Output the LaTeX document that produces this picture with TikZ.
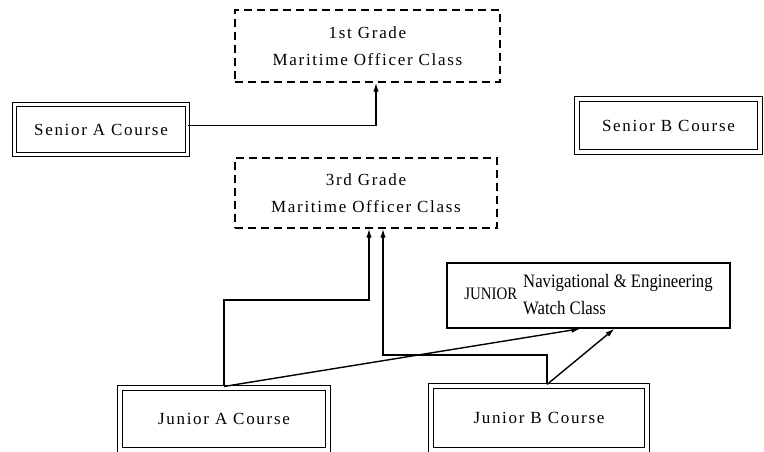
\documentclass[tikz,border=0pt]{standalone}
\usepackage{fontspec}
\setmainfont{Liberation Serif}
\usetikzlibrary{arrows.meta}
\begin{document}
\begin{tikzpicture}[x=1pt,y=-1pt,
  lbl/.style={font=\fontsize{17}{27}\selectfont\addfontfeature{LetterSpace=10}, align=center, inner sep=0pt},
  dashbox/.style={lbl, draw, dash pattern=on 8pt off 5pt, line width=1.4pt},
  dblbox/.style={lbl, draw, double, double distance=3.5pt, line width=1.1pt},
  solidbox/.style={draw, line width=1.4pt, inner sep=0pt},
  conn/.style={line width=1.4pt},
  arr/.style={conn, -{Latex[length=9pt,width=5.5pt]}}]
\useasboundingbox[fill=white] (0,0) rectangle (764,452);

\node[dashbox, minimum width=265pt, minimum height=72pt] (g1) at (367.5,46) {1st Grade\\Maritime Officer Class};
\node[dblbox, minimum width=173pt, minimum height=50pt] (seniorA) at (101,129.5) {Senior A Course};
\node[dblbox, minimum width=183pt, minimum height=53pt] (seniorB) at (668.5,125.5) {Senior B Course};
\node[dashbox, minimum width=262pt, minimum height=70pt] (g3) at (366,193) {3rd Grade\\Maritime Officer Class};
\node[solidbox, minimum width=283pt, minimum height=65pt] (watch) at (588.5,295.5) {%
  {\fontsize{17.5}{17.5}\selectfont\addfontfeature{FakeStretch=0.85}JUNIOR}\hspace{6pt}%
  \fontsize{19}{27}\selectfont\addfontfeature{FakeStretch=0.88}%
  \begin{tabular}[c]{@{}l@{}}Navigational \& Engineering\\Watch Class\end{tabular}\hspace{16pt}};
\node[dblbox, minimum width=208pt, minimum height=62pt] (juniorA) at (224,419) {Junior A Course};
\node[dblbox, minimum width=216pt, minimum height=64pt] (juniorB) at (539,418) {Junior B Course};

\coordinate (ja1) at (369,300);
\coordinate (jb1) at (383,355);

\draw[arr] ([yshift=4pt]seniorA.east) -| ([xshift=8.5pt]g1.south);
\draw[arr] ([yshift=1pt]juniorA.north) |- (ja1) -- (ja1 |- g3.south);
\draw[arr] ([xshift=8pt,yshift=1pt]juniorB.north) |- (jb1) -- (jb1 |- g3.south);
\draw[arr] ([yshift=1pt]juniorA.north) -- ([xshift=-8pt]watch.south);
\draw[arr] ([xshift=8pt,yshift=1pt]juniorB.north) -- ([xshift=26pt]watch.south);
\end{tikzpicture}
\end{document}
